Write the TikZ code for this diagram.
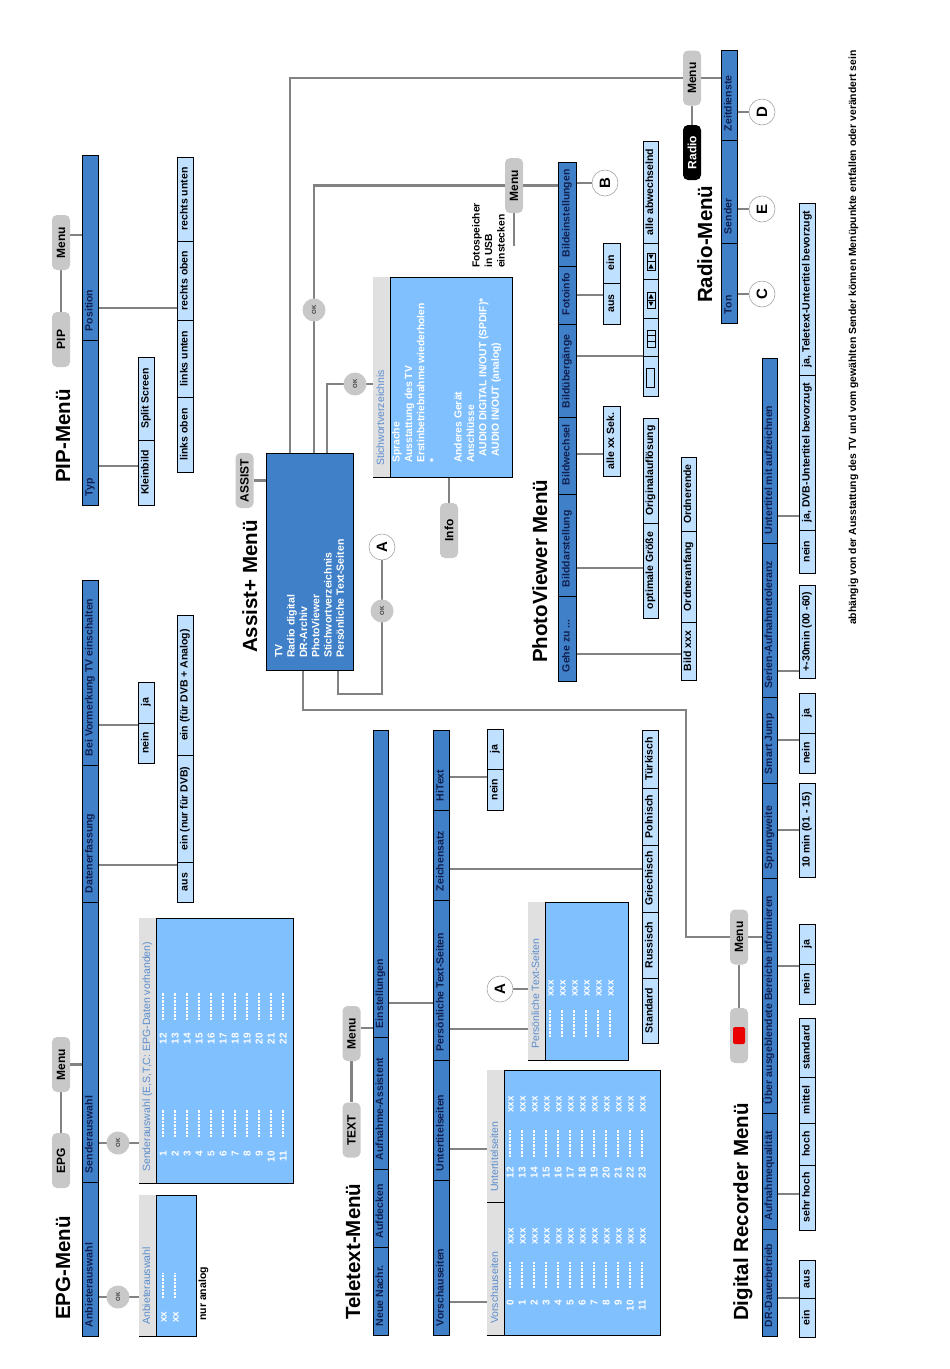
\documentclass[tikz,border=0pt]{standalone}
\usepackage{fontspec}
\setmainfont{Liberation Sans}
\usetikzlibrary{backgrounds}
\definecolor{barblue}{RGB}{64,128,200}
\definecolor{optblue}{RGB}{192,224,255}
\definecolor{scrblue}{RGB}{128,192,255}
\definecolor{stripgray}{RGB}{224,224,224}
\definecolor{navy}{RGB}{16,32,80}
\definecolor{steel}{RGB}{90,140,205}
\definecolor{btngray}{RGB}{200,200,200}
\definecolor{conngray}{RGB}{130,130,130}
\definecolor{recred}{RGB}{235,0,0}
\newcommand\labfont{\bfseries\fontsize{10.5}{12}\selectfont}
\tikzset{
 mbar/.style={rotate=90, draw=black, line width=0.6pt, fill=barblue, inner xsep=9pt, inner ysep=0pt, text height=7.6pt, text depth=2.2pt, font=\labfont, text=navy},
 ocell/.style={rotate=90, draw=black, line width=0.6pt, fill=optblue, inner xsep=2pt, inner ysep=0pt, text height=7.6pt, text depth=2.2pt, font=\labfont, text=black},
 scr/.style={draw=black, line width=0.6pt, fill=scrblue, inner sep=0pt},
 stitle/.style={rotate=90, inner sep=0pt, text=steel, font=\fontsize{10.5}{12}\selectfont, text height=7.6pt, text depth=2.2pt},
 scrtxt/.style={rotate=90, inner sep=0pt, text=white, font=\bfseries\fontsize{10}{12}\selectfont, text height=7pt, text depth=0pt},
 dashl/.style={white, line width=1.2pt, dash pattern=on 2.2pt off 1.3pt},
 ttl/.style={rotate=90, inner sep=0pt, font=\bfseries\fontsize{20.5}{24}\selectfont},
 btn/.style={rotate=90, fill=btngray, rounded corners=5pt, minimum width=55pt, minimum height=18pt, inner sep=0pt, font=\bfseries\fontsize{12}{14}\selectfont},
 okc/.style={circle, fill=btngray, minimum size=23pt, inner sep=0pt, rotate=90, font=\bfseries\fontsize{6}{7}\selectfont, text=black!75},
 letc/.style={circle, draw=black!35, line width=0.6pt, fill=white, minimum size=26pt, inner sep=0pt, rotate=90, font=\bfseries\fontsize{15}{16}\selectfont},
 ptxt/.style={rotate=90, inner sep=0pt, font=\labfont},
 conn/.style={draw=conngray, line width=2.6pt},
 icon/.style={draw=black, line width=0.6pt}
}
\newcommand\bseg[6]{\pgfmathsetmacro\tmpW{#3-#2}\pgfmathsetmacro\tmpT{#5-#4-18}\node[mbar,minimum height=\tmpW pt] (#1) at ({(#2+#3)/2},{(#4+#5)/2}) {\makebox[\tmpT pt][l]{#6}};}
\newcommand\oseg[6]{\pgfmathsetmacro\tmpW{#3-#2}\pgfmathsetmacro\tmpT{#5-#4-4}\node[ocell,minimum height=\tmpW pt] (#1) at ({(#2+#3)/2},{(#4+#5)/2}) {\makebox[\tmpT pt][c]{#6}};}
\newcommand\scrbox[6]{\pgfmathsetmacro\tmpW{#3-#2}\pgfmathsetmacro\tmpH{#5-#4}\node[scr,minimum width=\tmpW pt,minimum height=\tmpH pt] (#1) at ({(#2+#3)/2},{(#4+#5)/2}) {};\fill[stripgray] (#2+0.3,#4+0.3) rectangle (#2+17,#5-0.3);\draw[line width=0.6pt] (#2+17,#4) -- (#2+17,#5);\node[stitle,anchor=west] at (#2+8.5,#5-11) {#6};}
\begin{document}
\begin{tikzpicture}[x=1pt,y=-1pt]
\useasboundingbox (0,0) rectangle (950,1369);

% ================= PIP =================
\node[ttl,anchor=base west] (piptitle) at (70,483) {PIP-Menü};
\node[btn] (pipmenu) at (61,242.5) {Menu};
\node[btn] (pipbtn) at (61,339.5) {PIP};
\bseg{pippos}{82}{98}{155}{340}{Position}
\bseg{piptyp}{82}{98}{340}{505}{Typ}
\oseg{pipsplit}{138}{154}{357}{440}{Split Screen}
\oseg{pipklein}{138}{154}{440}{505}{Kleinbild}
\oseg{pipru}{177}{193}{157}{241}{rechts unten}
\oseg{pipro}{177}{193}{241}{320}{rechts oben}
\oseg{piplu}{177}{193}{320}{397}{links unten}
\oseg{piplo}{177}{193}{397}{472}{links oben}

% ================= EPG =================
\node[ttl,anchor=base west] (epgtitle) at (70,1320) {EPG-Menü};
\node[btn] (epgmenu) at (61,1064.5) {Menu};
\node[btn] (epgbtn) at (61,1160.5) {EPG};
\bseg{epgvor}{82}{98}{580}{765}{Bei Vormerkung TV einschalten}
\bseg{epgdat}{82}{98}{765}{902}{Datenerfassung}
\bseg{epgsend}{82}{98}{902}{1182}{Senderauswahl}
\bseg{epganb}{82}{98}{1182}{1336}{Anbieterauswahl}
\oseg{epgja}{138}{154}{682}{723}{ja}
\oseg{epgnein}{138}{154}{723}{763}{nein}
\oseg{epgein2}{177}{193}{615}{755}{ein (für DVB + Analog)}
\oseg{epgein1}{177}{193}{755}{862}{ein (nur für DVB)}
\oseg{epgaus}{177}{193}{862}{902}{aus}
\scrbox{epgsscr}{139}{293}{918}{1183}{Senderauswahl (E,S,T,C: EPG-Daten vorhanden)}
\scrbox{epgascr}{139}{196}{1195}{1336}{Anbieterauswahl}
\foreach \i in {1,...,11}{
  \pgfmathsetmacro\xx{163+12*(\i-1)}
  \pgfmathtruncatemacro\jj{\i+11}
  \node[scrtxt,anchor=east] at (\xx,1151) {\i};
  \draw[dashl] (\xx,1137) -- (\xx,1110);
  \node[scrtxt,anchor=east] at (\xx,1033) {\jj};
  \draw[dashl] (\xx,1020) -- (\xx,993);
}
\foreach \i in {0,1}{
  \pgfmathsetmacro\xx{163+12*\i}
  \node[scrtxt,anchor=west] at (\xx,1323) {xx};
  \draw[dashl] (\xx,1298) -- (\xx,1273);
}
\node[okc] (epgok1) at (118,1143) {OK};
\node[okc] (epgok2) at (118,1297) {OK};
\node[ptxt,anchor=base west] (nuranalog) at (206,1321) {nur analog};

% ================= Teletext =================
\node[ttl,anchor=base west] (txttitle) at (360,1320) {Teletext-Menü};
\node[btn] (txtmenu) at (351.5,1033.5) {Menu};
\node[btn] (txtbtn) at (351.5,1130) {TEXT};
\bseg{tein}{373}{388}{730}{1037}{Einstellungen}
\bseg{tauf}{373}{388}{1037}{1169}{Aufnahme-Assistent}
\bseg{tdeck}{373}{388}{1169}{1247}{Aufdecken}
\bseg{tneu}{373}{388}{1247}{1335}{Neue Nachr.}
\bseg{thi}{433}{449}{730}{810}{HiText}
\bseg{tzei}{433}{449}{810}{900}{Zeichensatz}
\bseg{tpers}{433}{449}{900}{1060}{Persönliche Text-Seiten}
\bseg{tunt}{433}{449}{1060}{1180}{Untertitelseiten}
\bseg{tvor}{433}{449}{1180}{1335}{Vorschauseiten}
\oseg{thija}{487}{503}{729}{769}{ja}
\oseg{thinein}{487}{503}{769}{810}{nein}
\oseg{ttur}{642}{658}{730}{788}{Türkisch}
\oseg{tpol}{642}{658}{788}{845}{Polnisch}
\oseg{tgri}{642}{658}{845}{912}{Griechisch}
\oseg{trus}{642}{658}{912}{978}{Russisch}
\oseg{tstd}{642}{658}{978}{1043}{Standard}
\scrbox{tpscr}{528}{628}{902}{1060}{Persönliche Text-Seiten}
\foreach \i in {0,...,5}{
  \pgfmathsetmacro\xx{550+12*\i}
  \draw[dashl] (\xx,1037) -- (\xx,1010);
  \node[scrtxt,anchor=west] at (\xx,997) {xxx};
}
\scrbox{tvscr}{487}{660}{1070}{1335}{Vorschauseiten}
\draw[line width=0.6pt] (487,1202) -- (504,1202);
\node[stitle,anchor=west] (tunttitle) at (495.5,1192) {Untertitelseiten};
\foreach \i in {0,...,11}{
  \pgfmathsetmacro\xx{510+12*\i}
  \pgfmathtruncatemacro\jj{\i+12}
  \node[scrtxt,anchor=east] at (\xx,1300) {\i};
  \draw[dashl] (\xx,1288) -- (\xx,1262);
  \node[scrtxt,anchor=west] at (\xx,1245) {xxx};
  \node[scrtxt,anchor=east] at (\xx,1167) {\jj};
  \draw[dashl] (\xx,1157) -- (\xx,1130);
  \node[scrtxt,anchor=west] at (\xx,1113) {xxx};
}
\node[letc] (ta) at (500,989) {A};

% ================= Assist =================
\node[ttl,anchor=base west] (asttitle) at (257,653) {Assist+ Menü};
\node[btn] (assistbtn) at (244.5,480.5) {ASSIST};
\node[draw=black, line width=0.6pt, fill=barblue, minimum width=87pt, minimum height=217pt, inner sep=0pt] (assist) at (309.5,561.5) {};
\node[rotate=90, inner sep=0pt, anchor=north west, align=left, text=white, font=\bfseries\fontsize{10.5}{12.3}\selectfont] (assisttext) at (275,658) {TV\\Radio digital\\DR-Archiv\\PhotoViewer\\Stichwortverzeichnis\\Persönliche Text-Seiten};
\scrbox{stw}{373}{512}{277}{477}{Stichwortverzeichnis}
\node[rotate=90, inner sep=0pt, anchor=north west, align=left, text=white, font=\bfseries\fontsize{10.3}{12.4}\selectfont] (stwtext) at (392,463) {Sprache\\Ausstattung des TV\\Erstinbetriebnahme wiederholen\\*\\\mbox{}\\Anderes Gerät\\Anschlüsse\\\hspace*{6pt}AUDIO DIGITAL IN/OUT (SPDIF)*\\\hspace*{6pt}AUDIO IN/OUT (analog)};
\node[btn] (info) at (449,530.5) {Info};
\node[okc] (astok1) at (314,310) {OK};
\node[okc] (astok2) at (355,384) {OK};
\node[okc] (astok3) at (382,611) {OK};
\node[letc] (asta) at (382,547) {A};
\coordinate (drbend) at (686,710);

% ================= PhotoViewer =================
\node[ttl,anchor=base west] (pvtitle) at (547,663) {PhotoViewer Menü};
\node[btn] (pvmenu) at (514,185.5) {Menu};
\coordinate (pvstub) at (514,246);
\node[ptxt,anchor=north west,align=left,font=\bfseries\fontsize{10.3}{12.5}\selectfont] (fototext) at (472,268) {Fotospeicher\\in USB\\einstecken};
\bseg{pvbild}{558}{576}{162}{266}{Bildeinstellungen}
\bseg{pvfoto}{558}{576}{266}{324}{Fotoinfo}
\bseg{pvueb}{558}{576}{324}{417}{Bildübergänge}
\bseg{pvwech}{558}{576}{417}{494}{Bildwechsel}
\bseg{pvdar}{558}{576}{494}{596}{Bilddarstellung}
\bseg{pvgehe}{558}{576}{596}{681}{Gehe zu ...}
\node[letc] (pvb) at (605,183) {B};
\oseg{pvein}{603}{620}{243}{283}{ein}
\oseg{pvaus}{603}{620}{283}{324}{aus}
\oseg{pvalle}{643}{658}{141}{243}{alle abwechselnd}
\oseg{pvi1}{643}{658}{243}{279}{}
\oseg{pvi2}{643}{658}{279}{318}{}
\oseg{pvi3}{643}{658}{318}{356}{}
\oseg{pvi4}{643}{658}{356}{396}{}
\oseg{pvsek}{603}{620}{406}{476}{alle xx Sek.}
\oseg{pvorig}{643}{658}{418}{523}{Originalauflösung}
\oseg{pvopt}{643}{658}{523}{618}{optimale Größe}
\oseg{pvoend}{681}{696}{457}{531}{Ordnerende}
\oseg{pvoanf}{681}{696}{531}{622}{Ordneranfang}
\oseg{pvbx}{681}{696}{622}{680}{Bild xxx}
% icons
\draw[icon] (646.5,368) rectangle (654.5,387);
\draw[icon] (647,330) rectangle (655,347);
\draw[icon] (647,335.7) -- (655,335.7) (647,341.3) -- (655,341.3);
\draw[icon] (647,292) rectangle (655,308);
\draw[icon] (647,300) -- (655,300);
\fill (648.5,301.5) -- (653.5,301.5) -- (651,306) -- cycle;
\fill (648.5,298.5) -- (653.5,298.5) -- (651,294) -- cycle;
\draw[icon] (647,253) rectangle (655,270);
\draw[icon] (647,261.5) -- (655,261.5);
\fill (648.5,268.5) -- (653.5,268.5) -- (651,264) -- cycle;
\fill (648.5,254.5) -- (653.5,254.5) -- (651,259) -- cycle;

% ================= Radio =================
\node[ttl,anchor=base west] (radtitle) at (712,303) {Radio-Menü};
\node[btn] (radmenu) at (692,78) {Menu};
\node[btn, fill=black, text=white] (radbtn) at (692,152.5) {Radio};
\bseg{rzeit}{721}{737}{50}{140}{Zeitdienste}
\bseg{rsend}{721}{737}{140}{243}{Sender}
\bseg{rton}{721}{737}{243}{323}{Ton}
\node[letc] (rd) at (762,112) {D};
\node[letc] (re) at (762,209) {E};
\node[letc] (rc) at (762,294) {C};

% ================= Digital Recorder =================
\node[ttl,anchor=base west] (drtitle) at (748,1321) {Digital Recorder Menü};
\node[btn] (drmenu) at (739,937) {Menu};
\node[btn] (drred) at (739,1035.5) {};
\node[fill=recred, rounded corners=2pt, minimum width=17pt, minimum height=12pt, inner sep=0pt, rotate=90] (redsq) at (drred) {};
\bseg{dunt}{762}{777}{358}{543}{Untertitel mit aufzeichnen}
\bseg{dser}{762}{777}{543}{697}{Serien-Aufnahmetoleranz}
\bseg{dsmart}{762}{777}{697}{783}{Smart Jump}
\bseg{dsprung}{762}{777}{783}{878}{Sprungweite}
\bseg{dueber}{762}{777}{878}{1113}{Über ausgeblendete Bereiche informieren}
\bseg{dqual}{762}{777}{1113}{1229}{Aufnahmequalität}
\bseg{ddauer}{762}{777}{1229}{1336}{DR-Dauerbetrieb}
\oseg{dtt}{799}{815}{203}{375}{ja, Teletext-Untertitel bevorzugt}
\oseg{ddvb}{799}{815}{375}{530}{ja, DVB-Untertitel bevorzugt}
\oseg{dunein}{799}{815}{530}{573}{nein}
\oseg{dser30}{799}{815}{585}{678}{+-30min (00 -60)}
\oseg{dsmja}{799}{815}{693}{733}{ja}
\oseg{dsmnein}{799}{815}{733}{773}{nein}
\oseg{dsp10}{799}{815}{783}{877}{10 min (01 - 15)}
\oseg{dueja}{799}{815}{924}{964}{ja}
\oseg{duenein}{799}{815}{964}{1004}{nein}
\oseg{dqstd}{799}{815}{1018}{1077}{standard}
\oseg{dqmit}{799}{815}{1077}{1123}{mittel}
\oseg{dqhoch}{799}{815}{1123}{1165}{hoch}
\oseg{dqsehr}{799}{815}{1165}{1230}{sehr hoch}
\oseg{ddaus}{799}{815}{1260}{1298}{aus}
\oseg{ddein}{799}{815}{1298}{1337}{ein}

\node[ptxt,anchor=base west,font=\bfseries\fontsize{10.4}{12}\selectfont] (foot) at (856,625) {abhängig von der Ausstattung des TV und vom gewählten Sender können Menüpunkte entfallen oder verändert sein};

% ================= Connectors =================
\begin{scope}[on background layer]
\fill[white] (0,0) rectangle (950,1369);
% PIP
\draw[conn] (pipbtn) -- (pipmenu);
\draw[conn] (pipmenu.south |- 0,235) -- (pippos.north |- 0,235);
\draw[conn] (piptyp.south |- 0,466) -- (pipklein.north |- 0,466);
\draw[conn] (pippos.south |- 0,308) -- (pipro.north |- 0,308);
% EPG
\draw[conn] (epgbtn) -- (epgmenu);
\draw[conn] (epgmenu) -- (epgmenu -| epgsend.north);
\draw[conn] (epgvor.south |- 0,725) -- (epgnein.north |- 0,725);
\draw[conn] (epgdat.south |- 0,865) -- (epgaus.north |- 0,865);
\draw[conn] (epgsend.south |- epgok1) -- (epgsscr.west |- epgok1);
\draw[conn] (epganb.south |- epgok2) -- (epgascr.west |- epgok2);
% Teletext
\draw[conn] (txtbtn) -- (txtmenu);
\draw[conn] (txtmenu.south |- 0,1028) -- (tein.north |- 0,1028);
\draw[conn] (tein.south |- 0,1003) -- (tpers.north |- 0,1003);
\draw[conn] (thi.south |- 0,777) -- (thinein.north |- 0,777);
\draw[conn] (tzei.south |- 0,869) -- (tgri.north |- 0,869);
\draw[conn] (tpers.south |- 0,1029) -- (tpscr.west |- 0,1029);
\draw[conn] (ta) -- (ta -| tpscr.west);
\draw[conn] (tunt.south |- 0,1149) -- (tvscr.west |- 0,1149);
\draw[conn] (tvor.south |- 0,1302) -- (tvscr.west |- 0,1302);
% Assist
\draw[conn] (assistbtn) -- (assistbtn -| assist.west);
\draw[conn] (assist.north -| 290,0) |- (radmenu);
\draw[conn] (assist.north -| 314,0) |- (pvmenu);
\draw[conn] (assist.north -| 327,0) |- (stw.west |- astok2);
\draw[conn] (stw.south -| info) -- (info);
\draw[conn] (assist.south -| 338,0) |- (asta |- 0,694) -- (asta);
\draw[conn] (assist.south -| 303,0) |- (drbend) |- (drmenu);
% PhotoViewer
\draw[conn] (pvmenu) -- (pvmenu -| pvbild.north);
\draw[conn] (pvmenu) -- (pvstub);
\draw[conn] (pvbild.south |- pvb) -- (pvb);
\draw[conn] (pvfoto.south |- 0,295) -- (pvaus.north |- 0,295);
\draw[conn] (pvueb.south |- 0,356) -- (pvi4.north |- 0,356);
\draw[conn] (pvwech.south |- 0,454) -- (pvsek.north |- 0,454);
\draw[conn] (pvdar.south |- 0,568) -- (pvopt.north |- 0,568);
\draw[conn] (pvgehe.south |- 0,654) -- (pvbx.north |- 0,654);
% Radio
\draw[conn] (radbtn) -- (radmenu);
\draw[conn] (radmenu) -- (radmenu -| rzeit.north);
\draw[conn] (rzeit.south |- rd) -- (rd);
\draw[conn] (rsend.south |- re) -- (re);
\draw[conn] (rton.south |- rc) -- (rc);
% DR
\draw[conn] (drred) -- (drmenu);
\draw[conn] (drmenu) -- (drmenu -| dueber.north);
\draw[conn] (dunt.south |- 0,516) -- (ddvb.north |- 0,516);
\draw[conn] (dser.south |- 0,671) -- (dser30.north |- 0,671);
\draw[conn] (dsmart.south |- 0,740) -- (dsmnein.north |- 0,740);
\draw[conn] (dsprung.south |- 0,830) -- (dsp10.north |- 0,830);
\draw[conn] (dueber.south |- 0,966) -- (duenein.north |- 0,966);
\draw[conn] (dqual.south |- 0,1194) -- (dqsehr.north |- 0,1194);
\draw[conn] (ddauer.south |- 0,1298) -- (ddein.north |- 0,1298);
\end{scope}
\end{tikzpicture}
\end{document}
